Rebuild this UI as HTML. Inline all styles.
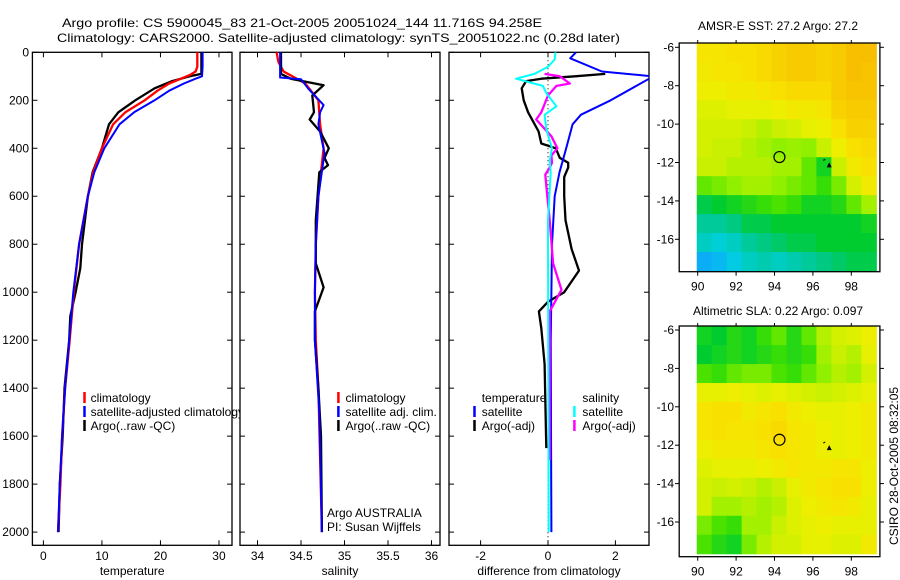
<!DOCTYPE html>
<html><head><meta charset="utf-8">
<style>
html,body{margin:0;padding:0;background:#fff;}
svg{display:block;font-family:"Liberation Sans",Arial,sans-serif;font-size:12px;}
</style></head>
<body>
<svg id="chart" width="900" height="580" viewBox="0 0 900 580" xmlns="http://www.w3.org/2000/svg">
<defs>
<clipPath id="clipLeg"><rect x="0" y="0" width="240" height="580"/></clipPath>
<clipPath id="clipP3"><rect x="449" y="52" width="200" height="494"/></clipPath>
</defs>
<text x="62" y="27" textLength="480" lengthAdjust="spacingAndGlyphs">Argo profile: CS 5900045_83 21-Oct-2005 20051024_144 11.716S 94.258E</text>
<text x="57" y="42" textLength="563" lengthAdjust="spacingAndGlyphs">Climatology: CARS2000. Satellite-adjusted climatology: synTS_20051022.nc (0.28d later)</text>
<g id="root"></g>
</svg>
<script>
// ---------- DATA ----------
const tClimDepth = [0,60,80,95,110,130,160,200,250,300,400,500,600,800,1000,1200,1400,1600,1800,2000];
const tClimVal   = [26.3,26.3,26,25,23.5,21.5,19.5,17.3,14,11.9,10,8.5,7.6,6.1,5.2,4.5,3.7,3.2,2.9,2.5];
const tSatDepth  = [0,60,100,110,130,160,200,250,300,400,500,600,800,1000,1200,1400,1600,1800,2000];
const tSatVal    = [27.2,27.2,27.1,26,24,21.5,19,15.5,13,10.4,8.7,7.6,6.1,5.1,4.4,3.7,3.2,2.8,2.5];
const tArgoDepth = [0,90,100,120,150,200,250,300,400,500,600,800,900,1000,1100,1200,1400,1600,1800,2000];
const tArgoVal   = [27,27,25,22,19,15.7,12.8,11.2,10,8.4,7.6,6.6,6.3,5.5,4.6,4.4,3.6,3.3,2.8,2.6];
const sClimDepth = [0,40,80,100,130,200,300,400,600,800,1000,1200,1400,2000];
const sClimVal   = [34.22,34.24,34.3,34.4,34.55,34.7,34.72,34.76,34.7,34.67,34.66,34.67,34.7,34.74];
const sSatDepth  = [0,105,112,150,220,250,300,420,600,800,1000,1200,1500,2000];
const sSatVal    = [34.26,34.26,34.5,34.58,34.76,34.72,34.7,34.77,34.7,34.67,34.66,34.66,34.71,34.74];
const sArgoDepth = [0,90,110,137,180,250,280,330,400,440,470,500,700,880,980,1080,1200,1400,1600,2000];
const sArgoVal   = [34.27,34.27,34.38,34.76,34.63,34.65,34.6,34.72,34.82,34.77,34.81,34.71,34.67,34.67,34.76,34.66,34.66,34.7,34.73,34.74];
const dTSatDepth = [0,25,80,100,110,200,260,300,400,500,600,800,1000,1200,2000];
const dTSatVal   = [0.83,0.66,1.6,3.1,3.0,1.86,0.98,0.73,0.54,0.34,0.2,0.12,0.1,0.08,0.1];
const dTArgoDepth= [90,100,110,120,150,200,250,330,380,400,440,460,480,520,600,700,820,910,1000,1040,1080,1150,1300,1650];
const dTArgoVal  = [1.7,0.8,-0.2,-0.65,-0.78,-0.72,-0.59,-0.28,-0.2,0.23,0.35,0.6,0.6,0.48,0.48,0.52,0.7,0.92,0.48,0,-0.27,-0.2,-0.1,-0.05];
const dSSatDepth = [0,30,60,90,110,140,170,225,260,320,400,450,500,700,2000];
const dSSatVal   = [0.22,0.2,0,-0.4,-0.95,-0.15,-0.05,0.25,-0.1,-0.05,0.12,0.05,0.08,0.0,0.02];
const dSArgoDepth= [90,100,130,140,180,250,280,350,400,430,460,480,510,600,700,880,990,1080,1400,1700];
const dSArgoVal  = [-0.1,0.35,0.65,0.25,0,-0.2,-0.35,0.1,0.28,0.1,0.12,0.05,-0.08,-0.02,0.05,0.15,0.4,0.05,0.05,0.05];
const depthTicks = [0,200,400,600,800,1000,1200,1400,1600,1800,2000];
const tempTicks = [0,10,20,30];
const salTicks = [34,34.5,35,35.5,36];
const salTickLabels = ["34","34.5","35","35.5","36"];
const diffTicks = [-2,0,2];
const lonTicks = [90,92,94,96,98];
const latTicks = [-6,-8,-10,-12,-14,-16];
const sstGrid = [
[0.72,0.72,0.74,0.74,0.76,0.78,0.8,0.8,0.78,0.8,0.84,0.84],
[0.7,0.72,0.72,0.74,0.76,0.78,0.8,0.8,0.78,0.8,0.84,0.82],
[0.68,0.68,0.7,0.7,0.72,0.74,0.76,0.76,0.76,0.8,0.82,0.82],
[0.64,0.64,0.66,0.66,0.66,0.68,0.7,0.7,0.72,0.78,0.8,0.8],
[0.62,0.62,0.62,0.6,0.58,0.6,0.62,0.66,0.68,0.74,0.78,0.78],
[0.62,0.6,0.6,0.58,0.56,0.54,0.55,0.54,0.6,0.68,0.74,0.76],
[0.6,0.6,0.58,0.58,0.58,0.56,0.56,0.5,0.42,0.6,0.7,0.74],
[0.5,0.52,0.54,0.56,0.56,0.54,0.52,0.5,0.46,0.52,0.62,0.7],
[0.38,0.4,0.42,0.44,0.46,0.48,0.46,0.42,0.42,0.44,0.5,0.56],
[0.32,0.32,0.34,0.38,0.38,0.4,0.4,0.4,0.4,0.4,0.4,0.42],
[0.28,0.26,0.28,0.32,0.34,0.36,0.38,0.38,0.4,0.4,0.4,0.4],
[0.18,0.2,0.24,0.28,0.3,0.28,0.3,0.32,0.34,0.36,0.38,0.38]];
const slaGrid = [
[0.42,0.4,0.44,0.42,0.46,0.5,0.44,0.5,0.58,0.62,0.64,0.68],
[0.4,0.42,0.44,0.42,0.44,0.46,0.44,0.46,0.56,0.6,0.58,0.66],
[0.48,0.46,0.5,0.52,0.52,0.48,0.46,0.5,0.54,0.58,0.56,0.62],
[0.66,0.66,0.68,0.66,0.64,0.66,0.64,0.62,0.6,0.62,0.64,0.66],
[0.72,0.74,0.74,0.7,0.72,0.74,0.7,0.68,0.66,0.66,0.68,0.7],
[0.72,0.74,0.72,0.72,0.74,0.76,0.72,0.7,0.68,0.66,0.68,0.7],
[0.68,0.7,0.7,0.7,0.72,0.74,0.72,0.7,0.68,0.66,0.68,0.7],
[0.64,0.66,0.66,0.66,0.68,0.7,0.72,0.7,0.7,0.72,0.72,0.68],
[0.62,0.6,0.62,0.6,0.58,0.6,0.66,0.7,0.72,0.74,0.74,0.68],
[0.62,0.56,0.56,0.58,0.56,0.58,0.64,0.68,0.7,0.72,0.7,0.66],
[0.52,0.48,0.46,0.56,0.56,0.6,0.64,0.66,0.68,0.66,0.66,0.66],
[0.48,0.44,0.42,0.52,0.58,0.62,0.62,0.66,0.66,0.64,0.64,0.7]];
const floatLon = 94.258, floatLat = -11.716;
const otherLon = 96.85, otherLat = -12.15;

// ---------- DRAWING ----------
const NS = "http://www.w3.org/2000/svg";
const root = document.getElementById('root');
function mk(tag, attrs, parent){ const e=document.createElementNS(NS,tag); for(const k in attrs) e.setAttribute(k,attrs[k]); (parent||root).appendChild(e); return e; }
const yD = d => 52.3 + d*0.2399;
const panels = [
 {name:'temperature', x0:32.4, x1:232, xs: v=>43.4+v*5.853, ticks:tempTicks, labels:tempTicks.map(String), xlabel:'temperature'},
 {name:'salinity', x0:240, x1:440, xs: v=>257.5+(v-34)*87, ticks:salTicks, labels:salTickLabels, xlabel:'salinity'},
 {name:'difference', x0:449, x1:649, xs: v=>548+v*33.7, ticks:diffTicks, labels:diffTicks.map(String), xlabel:'difference from climatology'}
];
const yTop=52.3, yBot=545.3;
panels.forEach((p,i)=>{
  const g = mk('g',{});
  
  
  const fr = mk('rect',{x:p.x0,y:yTop,width:p.x1-p.x0,height:yBot-yTop,fill:'none',stroke:'#000','stroke-width':1.3},g);
  
  
  depthTicks.forEach(d=>{
    mk('line',{x1:p.x0,x2:p.x0+5,y1:yD(d),y2:yD(d),stroke:'#000'},g);
    mk('line',{x1:p.x1-5,x2:p.x1,y1:yD(d),y2:yD(d),stroke:'#000'},g);
    if(i===0){
      const t = mk('text',{x:29,y:yD(d)+4,'text-anchor':'end'},g);
      t.textContent = d;
      
      
    }
  });
  p.ticks.forEach((v,k)=>{
    const x=p.xs(v);
    mk('line',{x1:x,x2:x,y1:yBot,y2:yBot-5,stroke:'#000'},g);
    mk('line',{x1:x,x2:x,y1:yTop,y2:yTop+5,stroke:'#000'},g);
    const t = mk('text',{x:x,y:560,'text-anchor':'middle'},g);
    t.textContent = p.labels[k];
    
    
  });
  const xl = mk('text',{x:(p.x0+p.x1)/2,y:575,'text-anchor':'middle'},g);
  xl.textContent = p.xlabel;
  
  
});
function line(p, depths, vals, color, name, w, clip){
  const pts = depths.map((d,k)=>panels[p].xs(vals[k]).toFixed(1)+','+yD(d).toFixed(1)).join(' ');
  const e = mk('polyline',{points:pts,fill:'none',stroke:color,'stroke-width':w||2.3,'stroke-linejoin':'round'});
  if(clip) e.setAttribute('clip-path','url(#clipP3)');
  
  
}
const zl = mk('line',{x1:panels[2].xs(0),x2:panels[2].xs(0),y1:yTop,y2:yBot,stroke:'#000','stroke-width':1,'stroke-dasharray':'1,3'});



line(0,tArgoDepth,tArgoVal,'#000','temp-argo-line');
line(0,tClimDepth,tClimVal,'#ff0000','temp-climatology-line');
line(0,tSatDepth,tSatVal,'#0000ff','temp-satellite-line',2);
line(1,sClimDepth,sClimVal,'#ff0000','sal-climatology-line');
line(1,sArgoDepth,sArgoVal,'#000','sal-argo-line');
line(1,sSatDepth,sSatVal,'#0000ff','sal-satellite-line',2);
line(2,dTArgoDepth,dTArgoVal,'#000','diff-temp-argo-line',2.3,true);
line(2,dTSatDepth,dTSatVal,'#0000ff','diff-temp-satellite-line',2,true);
line(2,dSArgoDepth,dSArgoVal,'#ff00ff','diff-sal-argo-line',2.3,true);
line(2,dSSatDepth,dSSatVal,'#00ffff','diff-sal-satellite-line',2,true);

function legEntry(mx, tx, y, color, label, name, clip){
  const g = mk('g',{});
  if(clip) g.setAttribute('clip-path','url(#clipLeg)');
  
  
  if(color) mk('line',{x1:mx,x2:mx,y1:y-6,y2:y+5,stroke:color,'stroke-width':2.5},g);
  const t = mk('text',{x:tx,y:y+4},g); t.textContent = label;
}
legEntry(84.5,90.6,398,'#ff0000','climatology','legend-entry-climatology');
legEntry(84.5,90.6,412,'#0000ff','satellite-adjusted climatology','legend-entry-satellite',true);
legEntry(84.5,90.6,426,'#000','Argo(..raw -QC)','legend-entry-argo');
legEntry(338.4,345.5,398,'#ff0000','climatology','sal-legend-climatology');
legEntry(338.4,345.5,412,'#0000ff','satellite adj. clim.','sal-legend-satellite');
legEntry(338.4,345.5,426,'#000','Argo(..raw -QC)','sal-legend-argo');
legEntry(0,481.7,398,null,'temperature','diff-legend-temperature-header');
legEntry(474.5,481.7,412,'#0000ff','satellite','diff-legend-temp-satellite');
legEntry(474.5,481.7,426,'#000','Argo(-adj)','diff-legend-temp-argo');
legEntry(0,582.4,398,null,'salinity','diff-legend-salinity-header');
legEntry(574.4,582.4,412,'#00ffff','satellite','diff-legend-sal-satellite');
legEntry(574.4,582.4,426,'#ff00ff','Argo(-adj)','diff-legend-sal-argo');
legEntry(0,327,513,null,'Argo AUSTRALIA','argo-australia-label');
legEntry(0,327,527,null,'PI: Susan Wijffels','pi-label');

// ---------- MAPS ----------
const cStops=[[0,[16,80,255]],[0.15,[16,160,255]],[0.25,[0,208,224]],[0.33,[0,200,144]],[0.4,[0,204,48]],[0.47,[64,224,0]],[0.54,[144,240,0]],[0.6,[200,240,0]],[0.67,[236,240,0]],[0.74,[248,224,0]],[0.82,[248,196,0]],[0.9,[245,176,0]],[1,[240,150,0]]];
function cmap(v){
  for(let i=1;i<cStops.length;i++){ if(v<=cStops[i][0]){ const a=cStops[i-1],b=cStops[i],f=(v-a[0])/(b[0]-a[0]); const c=a[1].map((x,k)=>Math.round(x+(b[1][k]-x)*f)); return 'rgb('+c.join(',')+')'; } }
  return 'rgb(240,150,0)';
}
const lonX = lon => 697.7 + (lon-90)*19.2;
function drawMap(grid, yLat6, frameTop, frameBot, title, titleY, name){
  const latY = lat => yLat6 + (-6-lat)*19.2;
  const g = mk('g',{});
  
  
  const lon0=89.95, lon1=99.3, lat0=-5.8, lat1=-17.65;
  const nr=grid.length, nc=grid[0].length;
  const dLon=(lon1-lon0)/nc, dLat=(lat0-lat1)/nr;
  grid.forEach((row,r)=>row.forEach((v,c)=>{
    const x=lonX(lon0+c*dLon), y=latY(lat0-r*dLat);
    const cell = mk('rect',{x:x.toFixed(2),y:y.toFixed(2),width:(lonX(lon0+(c+1)*dLon)-x+0.6).toFixed(2),height:(latY(lat0-(r+1)*dLat)-y+0.6).toFixed(2),fill:cmap(v)},g);
    
    
  }));
  mk('rect',{x:679.2,y:frameTop,width:200.7,height:frameBot-frameTop,fill:'none',stroke:'#000','stroke-width':1.3},g);
  latTicks.forEach(lat=>{
    const y=latY(lat);
    mk('line',{x1:675,x2:679.2,y1:y,y2:y,stroke:'#000'},g);
    mk('line',{x1:879.9,x2:884,y1:y,y2:y,stroke:'#000'},g);
    const t=mk('text',{x:674,y:y+4,'text-anchor':'end'},g); t.textContent=lat;
    
    
  });
  lonTicks.forEach(lon=>{
    const x=lonX(lon);
    mk('line',{x1:x,x2:x,y1:frameBot,y2:frameBot+4,stroke:'#000'},g);
    mk('line',{x1:x,x2:x,y1:frameTop,y2:frameTop-3,stroke:'#000'},g);
    const t=mk('text',{x:x,y:frameBot+19,'text-anchor':'middle'},g); t.textContent=lon;
    
    
  });
  const tt=mk('text',{x:778,y:titleY,'text-anchor':'middle'},g); tt.textContent=title;
  
  
  const ci=mk('circle',{cx:lonX(floatLon),cy:latY(floatLat),r:5.5,fill:'none',stroke:'#000','stroke-width':1.2},g);
  
  
  const ox=lonX(otherLon), oy=latY(otherLat);
  const tri=mk('polygon',{points:`${ox},${oy-3} ${ox-2.5},${oy+2} ${ox+2.5},${oy+2}`,fill:'#000'},g);
  
  
  mk('line',{x1:ox-6,x2:ox-4,y1:oy-5,y2:oy-6,stroke:'#000','stroke-width':1},g);
}
drawMap(sstGrid, 47.3, 43, 271.7, 'AMSR-E SST: 27.2 Argo: 27.2', 30, 'sst-map');
drawMap(slaGrid, 330, 326, 556.7, 'Altimetric SLA: 0.22 Argo: 0.097', 315, 'sla-map');
const cs = mk('text',{x:0,y:0,'text-anchor':'middle',transform:'translate(898,466) rotate(-90)'});
cs.textContent='CSIRO 28-Oct-2005 08:32:05';


</script>
</body></html>
